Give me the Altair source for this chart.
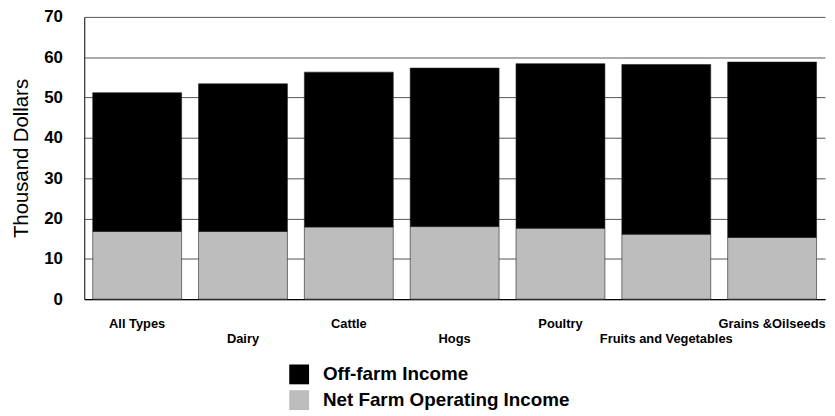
import altair as alt
import pandas as pd

categories = ["All Types", "Dairy", "Cattle", "Hogs", "Poultry",
              "Fruits and Vegetables", "Grains &Oilseeds"]
net_farm = [16.8, 16.8, 17.9, 18.0, 17.6, 16.1, 15.3]
off_farm = [34.4, 36.6, 38.4, 39.3, 40.8, 42.1, 43.5]
series = ["Off-farm Income", "Net Farm Operating Income"]
y_ticks = [0, 10, 20, 30, 40, 50, 60, 70]
lower_row = ["Dairy", "Hogs", "Fruits and Vegetables"]

rows = []
for c, n, o in zip(categories, net_farm, off_farm):
    rows.append({"type": c, "series": series[1], "value": n, "ord": 0})
    rows.append({"type": c, "series": series[0], "value": o, "ord": 1})
df = pd.DataFrame(rows)

FONT = "Liberation Sans"
lower_js = "[" + ",".join("'" + s + "'" for s in lower_row) + "]"

chart = alt.Chart(df).mark_bar(stroke="#222", strokeWidth=0.6).encode(
    x=alt.X("type:N", sort=categories,
            scale=alt.Scale(paddingInner=0.16, paddingOuter=0.08),
            axis=alt.Axis(title=None, labelAngle=0, labelFont=FONT, labelFontSize=13,
                          labelFontWeight="bold", labelColor="#000", ticks=False,
                          domainColor="#000", domainWidth=1.2, labelPadding=19,
                          labelLineHeight=15, labelOverlap=False, labelLimit=300,
                          labelBound=False,
                          labelExpr="indexof(" + lower_js + ", datum.label) >= 0 ? ['', datum.label] : datum.label")),
    y=alt.Y("value:Q", stack="zero",
            scale=alt.Scale(domain=[0, 70], nice=False),
            axis=alt.Axis(title="Thousand Dollars", values=y_ticks, titleFont=FONT,
                          titleFontSize=20.5, titleFontWeight="normal", titleColor="#000",
                          titlePadding=12, labelFont=FONT, labelFontSize=17,
                          labelFontWeight="bold", labelColor="#000", ticks=False,
                          labelPadding=22, domainColor="#000", domainWidth=1,
                          gridColor="#555", gridWidth=1)),
    color=alt.Color("series:N",
                    scale=alt.Scale(domain=series, range=["#000000", "#bdbdbd"]),
                    legend=alt.Legend(title=None, orient="none", legendX=207, legendY=351,
                                      symbolType="square", symbolSize=400,
                                      symbolStrokeWidth=0, labelFont=FONT,
                                      labelFontSize=19, labelFontWeight="bold",
                                      labelColor="#000", rowPadding=6, labelOffset=14,
                                      labelLimit=400, padding=0)),
    order=alt.Order("ord:Q", sort="ascending"),
).properties(
    width=748, height=285, autosize="none",
    padding={"left": 77, "top": 7, "right": 2, "bottom": 114},
).configure_view(stroke=None)

chart.save("out.html", embed_options={"renderer": "svg", "actions": False})
